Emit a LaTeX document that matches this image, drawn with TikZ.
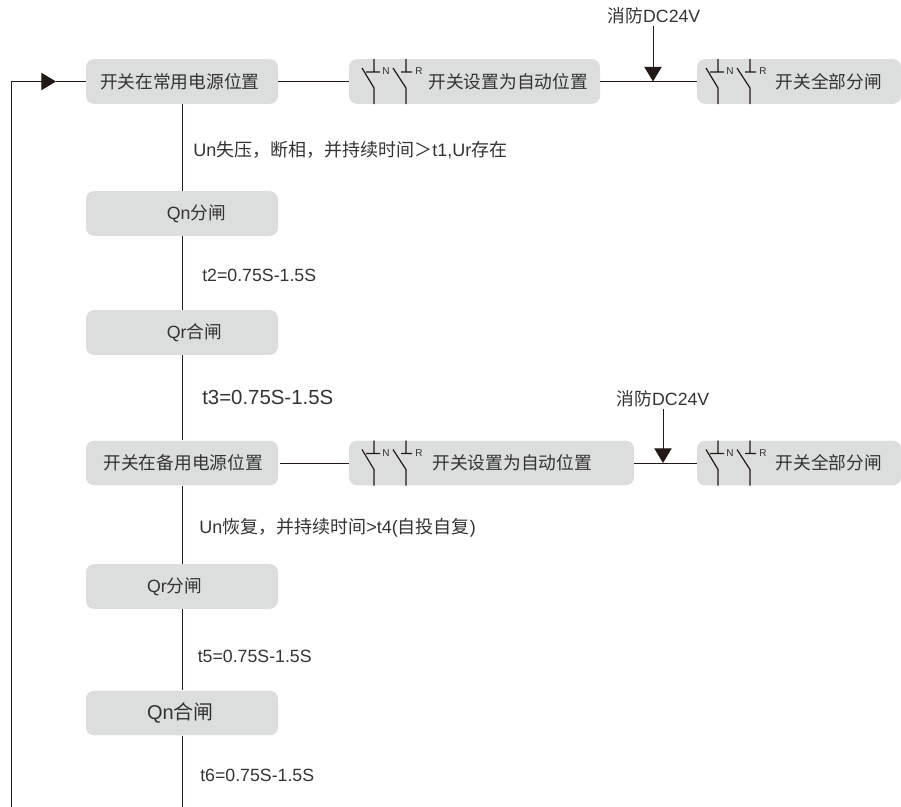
\documentclass[tikz,border=0pt]{standalone}
\usepackage{fontspec}
\usetikzlibrary{positioning, arrows.meta}
\setmainfont{Liberation Sans}
\newfontfamily\cjk{Noto Sans CJK SC}
\definecolor{boxgray}{HTML}{DCDDDD}
\definecolor{inkline}{HTML}{231815}
\definecolor{inktext}{HTML}{333333}

\tikzset{
    flowbox/.style n args={2}{fill=boxgray, rounded corners=6pt, minimum height=33.5pt,
        inner sep=0pt, text=inktext, font=\fontsize{13.3}{15}\selectfont,
        minimum width=#1*0.75pt, inner xsep=#2*0.75pt,
        text width={(#1-2*#2)*0.75pt}, align=right},
    steplabel/.style={anchor=west, inner sep=0pt, text=inktext, font=\fontsize{13.3}{15}\selectfont},
    wire/.style={inkline, line width=0.75pt},
    bigtip/.style={wire, -{Triangle[length=11pt, width=13pt]}},
    poles/.pic={
        \draw[wire, line width=0.9pt]
            (0,-22.5) -- (0,-9.5) (-8,-9.5) -- (6,-9.5) (-12,-13.5) -- (0,6.5) -- (0,22.5)
            (32,-22.5) -- (32,-9.5) (27,-9.5) -- (38,-9.5) (19,-13.5) -- (32,6.5) -- (32,22.5);
        \node[text=inktext, font=\fontsize{7.5}{8}\selectfont, inner sep=0pt] (-n) at (12,-10) {N};
        \node[text=inktext, font=\fontsize{7.5}{8}\selectfont, inner sep=0pt] (-r) at (45,-10) {R};
    }
}

\begin{document}
\begin{tikzpicture}[x=0.75pt, y=-0.75pt, on grid]
    \useasboundingbox (0,0) rectangle (901,807);

    \node[flowbox={192}{14}, align=left] (normal) at (182,81.5) {\cjk 开关在常用电源位置};
    \node[flowbox={192}{52}] (qnoff) [below=99pt of normal] {Qn{\cjk 分闸}};
    \node[flowbox={192}{56}] (qron) [below=89.25pt of qnoff] {Qr{\cjk 合闸}};
    \node[flowbox={192}{15}] (standby) [below=97.9pt of qron] {\cjk 开关在备用电源位置};
    \node[flowbox={192}{61}, align=left] (qroff) [below=92.6pt of standby] {Qr{\cjk 分闸}};
    \node[flowbox={192}{61}, align=left, font=\fontsize{15}{17}\selectfont] (qnon) [below=94.9pt of qroff] {Qn{\cjk 合闸}};

    \node[flowbox={251}{12}] (autoa) at (474.5,81.5) {\cjk 开关设置为自动位置};
    \node[flowbox={204}{19}] (opena) at (799,81.5) {\cjk 开关全部分闸};
    \node[flowbox={285}{42}] (autob) at (491.5,463) {\cjk 开关设置为自动位置};
    \node[flowbox={204}{19}] (openb) at (799,463) {\cjk 开关全部分闸};

    \pic (swa) at (374,81.5) {poles};
    \pic (swb) at (718,81.5) {poles};
    \pic (swc) at (374,463) {poles};
    \pic (swd) at (718,463) {poles};

    \node[steplabel, font=\fontsize{13.5}{15}\selectfont] (lossn) at (193,150) {Un{\cjk 失压，断相，并持续时间＞}t1,Ur{\cjk 存在}};
    \node[steplabel] (ttwo) at (202,275.5) {t2=0.75S-1.5S};
    \node[steplabel, font=\fontsize{15.3}{17}\selectfont] (tthree) at (202,397.5) {t3=0.75S-1.5S};
    \node[steplabel, font=\fontsize{13.5}{15}\selectfont] (backn) at (199,527.5) {Un{\cjk 恢复，并持续时间}>t4({\cjk 自投自复})};
    \node[steplabel] (tfive) at (197.5,656.5) {t5=0.75S-1.5S};
    \node[steplabel] (tsix) at (200,775.5) {t6=0.75S-1.5S};

    \node[inner sep=0pt, text=inktext, font=\fontsize{13.3}{15}\selectfont] (firea) at (654,16) {{\cjk 消防}DC24V};
    \node[inner sep=0pt, text=inktext, font=\fontsize{13.3}{15}\selectfont] (fireb) at (663,399) {{\cjk 消防}DC24V};

    \coordinate (trunkend) at (182,807);
    \coordinate (loopend) at (11,807);
    \coordinate (loopturn) at (11,81.5);
    \coordinate (entry) at (56,81.5);
    \coordinate (joina) at (653,81.5);
    \coordinate (joinb) at (663,463);
    \coordinate (tapb) at (280,463);
    \coordinate (firetopa) at (653,26);
    \coordinate (firetopb) at (663,409);

    \draw[wire] (normal) -- (qnoff);
    \draw[wire] (qnoff) -- (qron);
    \draw[wire] (qron) -- (standby);
    \draw[wire] (standby) -- (qroff);
    \draw[wire] (qroff) -- (qnon);
    \draw[wire] (qnon) -- (trunkend);

    \draw[wire] (normal) -- (autoa);
    \draw[wire] (autoa) -- (opena);
    \draw[wire] (tapb) -- (autob);
    \draw[wire] (autob) -- (openb);

    \draw[bigtip] (firetopa) -- (joina);
    \draw[bigtip] (firetopb) -- (joinb);

    \draw[bigtip] (loopend) -- (loopturn) -- (entry);
    \draw[wire] (entry) -- (normal);
\end{tikzpicture}
\end{document}
